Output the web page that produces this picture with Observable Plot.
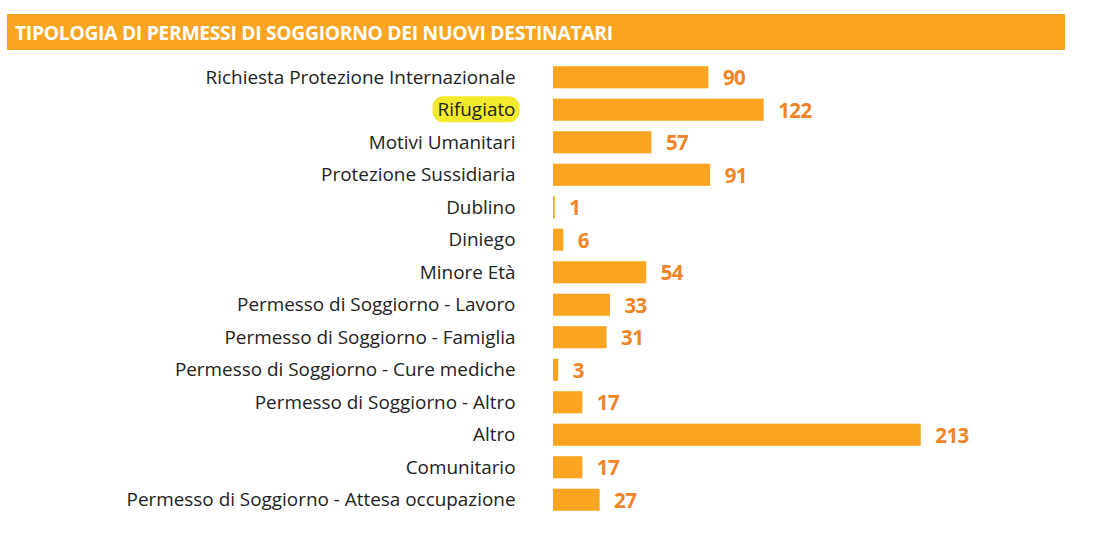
<!DOCTYPE html>
<html><head><meta charset="utf-8">
<script src="https://cdn.jsdelivr.net/npm/d3@7"></script>
<script src="https://cdn.jsdelivr.net/npm/@observablehq/plot@0.6"></script>
<style>
body{margin:0;background:#fff;font-family:"Open Sans",sans-serif;}
#title{position:absolute;left:7px;top:14px;width:1058px;height:36px;background:#FAA521;color:#fff;font-family:"Open Sans",sans-serif;font-weight:700;font-size:19.3px;line-height:37px;padding-left:8px;box-sizing:border-box;letter-spacing:-0.3px;}
#chart{position:absolute;left:0;top:50px;}
</style></head><body>
<div id="title">TIPOLOGIA DI PERMESSI DI SOGGIORNO DEI NUOVI DESTINATARI</div>
<div id="chart"></div>
<script>
const categories = ["Richiesta Protezione Internazionale","Rifugiato","Motivi Umanitari","Protezione Sussidiaria","Dublino","Diniego","Minore Età","Permesso di Soggiorno - Lavoro","Permesso di Soggiorno - Famiglia","Permesso di Soggiorno - Cure mediche","Permesso di Soggiorno - Altro","Altro","Comunitario","Permesso di Soggiorno - Attesa occupazione"];
const values = [90,122,57,91,1,6,54,33,31,3,17,213,17,27];
const highlighted = "Rifugiato";
const data = categories.map((c,i)=>({cat:c,val:values[i]}));

const plot = Plot.plot({
  width:1103, height:498,
  marginLeft:553, marginRight:32, marginTop:11, marginBottom:32,
  x:{domain:[0,300], axis:null},
  y:{domain:categories, paddingInner:0.32, paddingOuter:0.16, round:false, label:null},
  style:{fontFamily:"Open Sans, sans-serif"},
  marks:[
    Plot.barX(data,{x:"val", y:"cat", fill:"#FAA521"}),
    Plot.text(data,{x:"val", y:"cat", text:d=>String(d.val), textAnchor:"start", dx:14, dy:1, fill:"#F08427", fontWeight:"bold", fontSize:20.5}),
    Plot.axisY({tickSize:0, tickPadding:38, fontSize:18.9, label:null})
  ]
});
document.getElementById("chart").appendChild(plot);
d3.select(plot).selectAll("g[aria-label='text'] text").style("letter-spacing","-0.6px");
const ticks = d3.select(plot).selectAll("g[aria-label='y-axis tick label'] text");
ticks.attr("fill","#222");
ticks.each(function(){
  if (this.textContent === highlighted) {
    const b = this.getBBox();
    const r = document.createElementNS("http://www.w3.org/2000/svg","rect");
    const t = this.getAttribute("transform");
    r.setAttribute("x", b.x-5); r.setAttribute("y", b.y);
    r.setAttribute("width", b.width+9); r.setAttribute("height", b.height);
    r.setAttribute("rx", 11); r.setAttribute("fill", "#F2EA2A");
    if (t) r.setAttribute("transform", t);
    this.parentNode.insertBefore(r, this);
  }
});
</script>
</body></html>
